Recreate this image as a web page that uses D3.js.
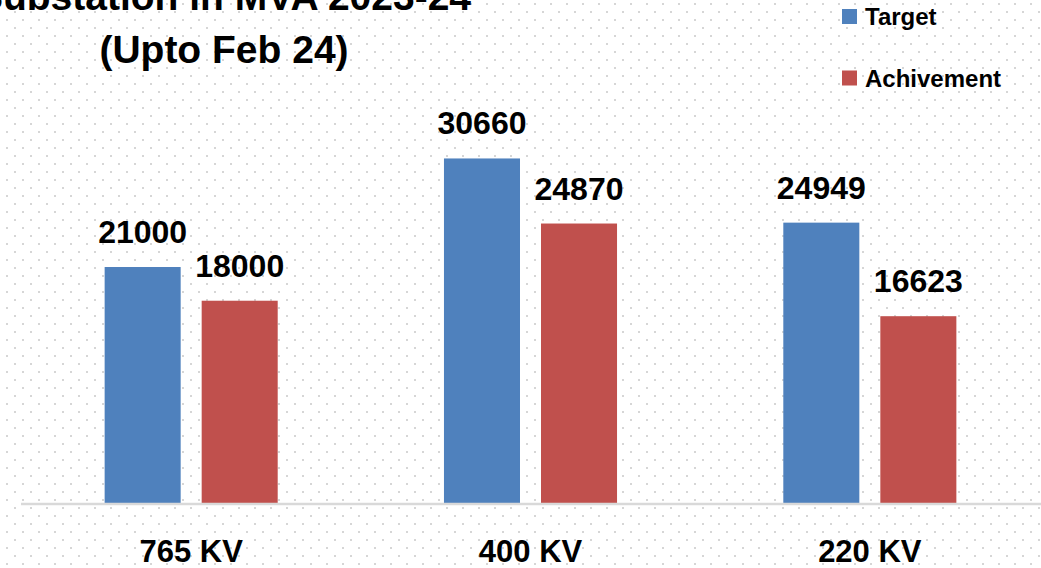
<!DOCTYPE html>
<html>
<head>
<meta charset="utf-8">
<script src="https://cdn.jsdelivr.net/npm/d3@7"></script>
<style>
  html, body { margin: 0; padding: 0; background: #fff; }
  svg { display: block; }
  text { font-family: "Liberation Sans", Arial, sans-serif; font-weight: bold; fill: #000; }
</style>
</head>
<body>
<svg id="chart" width="1041" height="568"></svg>
<script>
// ---- data ----
const categories = ["765 KV", "400 KV", "220 KV"];
const seriesNames = ["Target", "Achivement"];
const targetValues = [21000, 30660, 24949];
const achievementValues = [18000, 24870, 16623];
const titleLines = ["Substation in MVA 2023-24", "(Upto Feb 24)"];
const seriesColors = ["#4F81BD", "#C0504D"];

const seriesValues = [targetValues, achievementValues];

const W = 1041, H = 568;
const svg = d3.select("#chart");

// dotted background pattern
const defs = svg.append("defs");
const pat = defs.append("pattern")
  .attr("id", "dots").attr("patternUnits", "userSpaceOnUse")
  .attr("x", 0).attr("y", 0).attr("width", 16).attr("height", 16);
pat.append("rect").attr("x", 6).attr("y", 3).attr("width", 2).attr("height", 2).attr("fill", "#d6d6d6");
pat.append("rect").attr("x", 14).attr("y", 11).attr("width", 2).attr("height", 2).attr("fill", "#d6d6d6");
svg.append("rect").attr("width", W).attr("height", H).attr("fill", "#fff");
svg.append("rect").attr("width", W).attr("height", H).attr("fill", "url(#dots)");

// scales
const baseY = 503;
const x0 = d3.scaleBand().domain(categories).range([21.5, 1039.5])
  .paddingInner(0.49).paddingOuter(0.245);
const x1 = d3.scaleBand().domain(seriesNames).range([0, x0.bandwidth()])
  .paddingInner(0.2165).paddingOuter(0);
const y = d3.scaleLinear().domain([0, 40000]).range([baseY, baseY - 449.5]);

// data rows
const rows = [];
categories.forEach((c, i) => {
  seriesNames.forEach((s, j) => {
    rows.push({ cat: c, series: s, value: seriesValues[j][i], color: seriesColors[j] });
  });
});

// bars
const g = svg.append("g");
g.selectAll("rect.bar").data(rows).join("rect")
  .attr("class", "bar")
  .attr("x", d => x0(d.cat) + x1(d.series))
  .attr("y", d => y(d.value))
  .attr("width", x1.bandwidth())
  .attr("height", d => y(0) - y(d.value))
  .attr("fill", d => d.color);

// value labels
g.selectAll("text.val").data(rows).join("text")
  .attr("class", "val")
  .attr("x", d => x0(d.cat) + x1(d.series) + x1.bandwidth() / 2)
  .attr("y", d => y(d.value) - 24)
  .attr("text-anchor", "middle")
  .style("font-size", "32px")
  .text(d => d.value);

// category axis
const axis = svg.append("g")
  .attr("transform", `translate(0,${baseY + 1})`)
  .call(d3.axisBottom(x0).tickSize(0).tickSizeOuter(0).tickPadding(36));
axis.select(".domain").attr("stroke", "#d9d9d9").attr("stroke-width", 2.5)
  .attr("d", `M21,0H${W}`);
axis.selectAll(".tick text")
  .style("font-size", "31px")
  .style("font-family", '"Liberation Sans", Arial, sans-serif')
  .style("font-weight", "bold")
  .attr("fill", "#000");

// title
svg.append("g").selectAll("text").data(titleLines).join("text")
  .attr("x", 224)
  .attr("y", (d, i) => 10 + i * 53)
  .attr("text-anchor", "middle")
  .style("font-size", "39px")
  .text(d => d);

// legend
const leg = svg.append("g").selectAll("g").data(seriesNames).join("g")
  .attr("transform", (d, i) => `translate(842,${9 + i * 61.5})`);
leg.append("rect").attr("width", 15).attr("height", 15)
  .attr("fill", (d, i) => seriesColors[i]);
leg.append("text").attr("x", 23).attr("y", 16)
  .style("font-size", "24px").text(d => d);
</script>
</body>
</html>
